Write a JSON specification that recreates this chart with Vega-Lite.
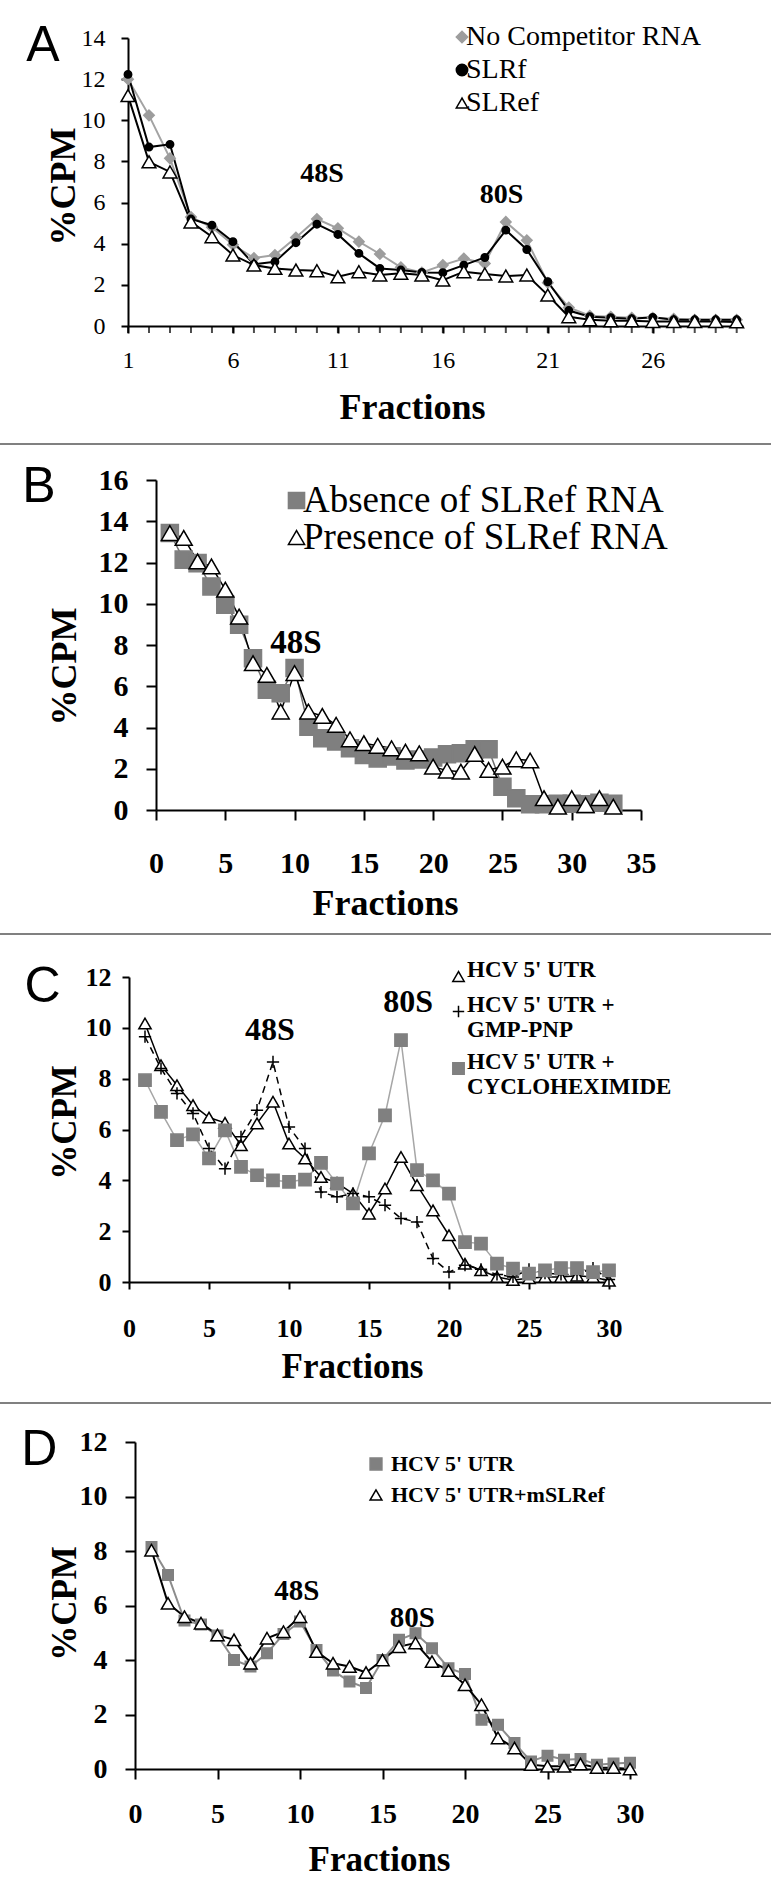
{
"$schema": "https://vega.github.io/schema/vega-lite/v6.json",
"width": 771, "height": 1895,
"autosize": {"type": "none"},
"padding": 0,
"background": "white",
"config": {
  "view": {"stroke": null},
  "axis": {"grid": false, "domainColor": "#000", "tickColor": "#000", "labelColor": "#000", "titleColor": "#000",
           "labelFont": "Liberation Serif", "titleFont": "Liberation Serif", "labelOverlap": false, "labelFlush": false, "labelBound": false,
           "domainWidth": 2, "tickWidth": 2}
},
"datasets": {
"A": [
{"fraction":1,"series":"No Competitor RNA","cpm":12.0},{"fraction":2,"series":"No Competitor RNA","cpm":10.24},{"fraction":3,"series":"No Competitor RNA","cpm":8.15},{"fraction":4,"series":"No Competitor RNA","cpm":5.3},{"fraction":5,"series":"No Competitor RNA","cpm":4.8},{"fraction":6,"series":"No Competitor RNA","cpm":3.95},{"fraction":7,"series":"No Competitor RNA","cpm":3.3},{"fraction":8,"series":"No Competitor RNA","cpm":3.45},{"fraction":9,"series":"No Competitor RNA","cpm":4.3},{"fraction":10,"series":"No Competitor RNA","cpm":5.2},{"fraction":11,"series":"No Competitor RNA","cpm":4.75},{"fraction":12,"series":"No Competitor RNA","cpm":4.1},{"fraction":13,"series":"No Competitor RNA","cpm":3.5},{"fraction":14,"series":"No Competitor RNA","cpm":2.85},{"fraction":15,"series":"No Competitor RNA","cpm":2.6},{"fraction":16,"series":"No Competitor RNA","cpm":2.96},{"fraction":17,"series":"No Competitor RNA","cpm":3.28},{"fraction":18,"series":"No Competitor RNA","cpm":3.04},{"fraction":19,"series":"No Competitor RNA","cpm":5.06},{"fraction":20,"series":"No Competitor RNA","cpm":4.17},{"fraction":21,"series":"No Competitor RNA","cpm":2.1},{"fraction":22,"series":"No Competitor RNA","cpm":0.9},{"fraction":23,"series":"No Competitor RNA","cpm":0.5},{"fraction":24,"series":"No Competitor RNA","cpm":0.45},{"fraction":25,"series":"No Competitor RNA","cpm":0.4},{"fraction":26,"series":"No Competitor RNA","cpm":0.4},{"fraction":27,"series":"No Competitor RNA","cpm":0.35},{"fraction":28,"series":"No Competitor RNA","cpm":0.3},{"fraction":29,"series":"No Competitor RNA","cpm":0.3},{"fraction":30,"series":"No Competitor RNA","cpm":0.3},
{"fraction":1,"series":"SLRf","cpm":12.23},{"fraction":2,"series":"SLRf","cpm":8.7},{"fraction":3,"series":"SLRf","cpm":8.83},{"fraction":4,"series":"SLRf","cpm":5.2},{"fraction":5,"series":"SLRf","cpm":4.9},{"fraction":6,"series":"SLRf","cpm":4.1},{"fraction":7,"series":"SLRf","cpm":3.0},{"fraction":8,"series":"SLRf","cpm":3.12},{"fraction":9,"series":"SLRf","cpm":4.05},{"fraction":10,"series":"SLRf","cpm":4.95},{"fraction":11,"series":"SLRf","cpm":4.45},{"fraction":12,"series":"SLRf","cpm":3.53},{"fraction":13,"series":"SLRf","cpm":2.8},{"fraction":14,"series":"SLRf","cpm":2.72},{"fraction":15,"series":"SLRf","cpm":2.6},{"fraction":16,"series":"SLRf","cpm":2.59},{"fraction":17,"series":"SLRf","cpm":2.96},{"fraction":18,"series":"SLRf","cpm":3.33},{"fraction":19,"series":"SLRf","cpm":4.66},{"fraction":20,"series":"SLRf","cpm":3.72},{"fraction":21,"series":"SLRf","cpm":2.15},{"fraction":22,"series":"SLRf","cpm":0.75},{"fraction":23,"series":"SLRf","cpm":0.45},{"fraction":24,"series":"SLRf","cpm":0.4},{"fraction":25,"series":"SLRf","cpm":0.35},{"fraction":26,"series":"SLRf","cpm":0.42},{"fraction":27,"series":"SLRf","cpm":0.3},{"fraction":28,"series":"SLRf","cpm":0.3},{"fraction":29,"series":"SLRf","cpm":0.3},{"fraction":30,"series":"SLRf","cpm":0.3},
{"fraction":1,"series":"SLRef","cpm":11.2},{"fraction":2,"series":"SLRef","cpm":7.98},{"fraction":3,"series":"SLRef","cpm":7.49},{"fraction":4,"series":"SLRef","cpm":5.06},{"fraction":5,"series":"SLRef","cpm":4.34},{"fraction":6,"series":"SLRef","cpm":3.45},{"fraction":7,"series":"SLRef","cpm":2.96},{"fraction":8,"series":"SLRef","cpm":2.8},{"fraction":9,"series":"SLRef","cpm":2.72},{"fraction":10,"series":"SLRef","cpm":2.69},{"fraction":11,"series":"SLRef","cpm":2.39},{"fraction":12,"series":"SLRef","cpm":2.64},{"fraction":13,"series":"SLRef","cpm":2.48},{"fraction":14,"series":"SLRef","cpm":2.56},{"fraction":15,"series":"SLRef","cpm":2.48},{"fraction":16,"series":"SLRef","cpm":2.23},{"fraction":17,"series":"SLRef","cpm":2.64},{"fraction":18,"series":"SLRef","cpm":2.53},{"fraction":19,"series":"SLRef","cpm":2.43},{"fraction":20,"series":"SLRef","cpm":2.48},{"fraction":21,"series":"SLRef","cpm":1.5},{"fraction":22,"series":"SLRef","cpm":0.45},{"fraction":23,"series":"SLRef","cpm":0.3},{"fraction":24,"series":"SLRef","cpm":0.25},{"fraction":25,"series":"SLRef","cpm":0.25},{"fraction":26,"series":"SLRef","cpm":0.22},{"fraction":27,"series":"SLRef","cpm":0.22},{"fraction":28,"series":"SLRef","cpm":0.22},{"fraction":29,"series":"SLRef","cpm":0.22},{"fraction":30,"series":"SLRef","cpm":0.2}
],
"B": [
{"fraction":1,"series":"Absence of SLRef RNA","cpm":13.43},{"fraction":2,"series":"Absence of SLRef RNA","cpm":12.14},{"fraction":3,"series":"Absence of SLRef RNA","cpm":11.97},{"fraction":4,"series":"Absence of SLRef RNA","cpm":10.84},{"fraction":5,"series":"Absence of SLRef RNA","cpm":9.95},{"fraction":6,"series":"Absence of SLRef RNA","cpm":8.98},{"fraction":7,"series":"Absence of SLRef RNA","cpm":7.36},{"fraction":8,"series":"Absence of SLRef RNA","cpm":5.83},{"fraction":9,"series":"Absence of SLRef RNA","cpm":5.66},{"fraction":10,"series":"Absence of SLRef RNA","cpm":6.88},{"fraction":11,"series":"Absence of SLRef RNA","cpm":4.04},{"fraction":12,"series":"Absence of SLRef RNA","cpm":3.48},{"fraction":13,"series":"Absence of SLRef RNA","cpm":3.32},{"fraction":14,"series":"Absence of SLRef RNA","cpm":2.99},{"fraction":15,"series":"Absence of SLRef RNA","cpm":2.67},{"fraction":16,"series":"Absence of SLRef RNA","cpm":2.5},{"fraction":17,"series":"Absence of SLRef RNA","cpm":2.6},{"fraction":18,"series":"Absence of SLRef RNA","cpm":2.4},{"fraction":19,"series":"Absence of SLRef RNA","cpm":2.45},{"fraction":20,"series":"Absence of SLRef RNA","cpm":2.55},{"fraction":21,"series":"Absence of SLRef RNA","cpm":2.7},{"fraction":22,"series":"Absence of SLRef RNA","cpm":2.75},{"fraction":23,"series":"Absence of SLRef RNA","cpm":2.95},{"fraction":24,"series":"Absence of SLRef RNA","cpm":2.95},{"fraction":25,"series":"Absence of SLRef RNA","cpm":1.13},{"fraction":26,"series":"Absence of SLRef RNA","cpm":0.57},{"fraction":27,"series":"Absence of SLRef RNA","cpm":0.28},{"fraction":28,"series":"Absence of SLRef RNA","cpm":0.28},{"fraction":29,"series":"Absence of SLRef RNA","cpm":0.3},{"fraction":30,"series":"Absence of SLRef RNA","cpm":0.3},{"fraction":31,"series":"Absence of SLRef RNA","cpm":0.28},{"fraction":32,"series":"Absence of SLRef RNA","cpm":0.35},{"fraction":33,"series":"Absence of SLRef RNA","cpm":0.3},
{"fraction":1,"series":"Presence of SLRef RNA","cpm":13.43},{"fraction":2,"series":"Presence of SLRef RNA","cpm":13.19},{"fraction":3,"series":"Presence of SLRef RNA","cpm":12.05},{"fraction":4,"series":"Presence of SLRef RNA","cpm":11.81},{"fraction":5,"series":"Presence of SLRef RNA","cpm":10.68},{"fraction":6,"series":"Presence of SLRef RNA","cpm":9.38},{"fraction":7,"series":"Presence of SLRef RNA","cpm":7.12},{"fraction":8,"series":"Presence of SLRef RNA","cpm":6.55},{"fraction":9,"series":"Presence of SLRef RNA","cpm":4.77},{"fraction":10,"series":"Presence of SLRef RNA","cpm":6.64},{"fraction":11,"series":"Presence of SLRef RNA","cpm":4.77},{"fraction":12,"series":"Presence of SLRef RNA","cpm":4.56},{"fraction":13,"series":"Presence of SLRef RNA","cpm":4.13},{"fraction":14,"series":"Presence of SLRef RNA","cpm":3.43},{"fraction":15,"series":"Presence of SLRef RNA","cpm":3.24},{"fraction":16,"series":"Presence of SLRef RNA","cpm":3.11},{"fraction":17,"series":"Presence of SLRef RNA","cpm":2.99},{"fraction":18,"series":"Presence of SLRef RNA","cpm":2.83},{"fraction":19,"series":"Presence of SLRef RNA","cpm":2.75},{"fraction":20,"series":"Presence of SLRef RNA","cpm":2.1},{"fraction":21,"series":"Presence of SLRef RNA","cpm":1.91},{"fraction":22,"series":"Presence of SLRef RNA","cpm":1.86},{"fraction":23,"series":"Presence of SLRef RNA","cpm":2.72},{"fraction":24,"series":"Presence of SLRef RNA","cpm":1.94},{"fraction":25,"series":"Presence of SLRef RNA","cpm":2.1},{"fraction":26,"series":"Presence of SLRef RNA","cpm":2.46},{"fraction":27,"series":"Presence of SLRef RNA","cpm":2.4},{"fraction":28,"series":"Presence of SLRef RNA","cpm":0.57},{"fraction":29,"series":"Presence of SLRef RNA","cpm":0.16},{"fraction":30,"series":"Presence of SLRef RNA","cpm":0.57},{"fraction":31,"series":"Presence of SLRef RNA","cpm":0.24},{"fraction":32,"series":"Presence of SLRef RNA","cpm":0.57},{"fraction":33,"series":"Presence of SLRef RNA","cpm":0.16}
],
"C": [
{"fraction":1,"series":"HCV 5' UTR","cpm":10.17},{"fraction":2,"series":"HCV 5' UTR","cpm":8.53},{"fraction":3,"series":"HCV 5' UTR","cpm":7.74},{"fraction":4,"series":"HCV 5' UTR","cpm":6.96},{"fraction":5,"series":"HCV 5' UTR","cpm":6.47},{"fraction":6,"series":"HCV 5' UTR","cpm":6.26},{"fraction":7,"series":"HCV 5' UTR","cpm":5.38},{"fraction":8,"series":"HCV 5' UTR","cpm":6.24},{"fraction":9,"series":"HCV 5' UTR","cpm":7.09},{"fraction":10,"series":"HCV 5' UTR","cpm":5.45},{"fraction":11,"series":"HCV 5' UTR","cpm":4.86},{"fraction":12,"series":"HCV 5' UTR","cpm":4.13},{"fraction":13,"series":"HCV 5' UTR","cpm":3.9},{"fraction":14,"series":"HCV 5' UTR","cpm":3.48},{"fraction":15,"series":"HCV 5' UTR","cpm":2.69},{"fraction":16,"series":"HCV 5' UTR","cpm":3.68},{"fraction":17,"series":"HCV 5' UTR","cpm":4.92},{"fraction":18,"series":"HCV 5' UTR","cpm":3.81},{"fraction":19,"series":"HCV 5' UTR","cpm":2.82},{"fraction":20,"series":"HCV 5' UTR","cpm":1.84},{"fraction":21,"series":"HCV 5' UTR","cpm":0.72},{"fraction":22,"series":"HCV 5' UTR","cpm":0.46},{"fraction":23,"series":"HCV 5' UTR","cpm":0.2},{"fraction":24,"series":"HCV 5' UTR","cpm":0.08},{"fraction":25,"series":"HCV 5' UTR","cpm":0.15},{"fraction":26,"series":"HCV 5' UTR","cpm":0.2},{"fraction":27,"series":"HCV 5' UTR","cpm":0.2},{"fraction":28,"series":"HCV 5' UTR","cpm":0.25},{"fraction":29,"series":"HCV 5' UTR","cpm":0.2},{"fraction":30,"series":"HCV 5' UTR","cpm":0.05},
{"fraction":1,"series":"HCV 5' UTR + GMP-PNP","cpm":9.65},{"fraction":2,"series":"HCV 5' UTR + GMP-PNP","cpm":8.4},{"fraction":3,"series":"HCV 5' UTR + GMP-PNP","cpm":7.42},{"fraction":4,"series":"HCV 5' UTR + GMP-PNP","cpm":6.63},{"fraction":5,"series":"HCV 5' UTR + GMP-PNP","cpm":5.25},{"fraction":6,"series":"HCV 5' UTR + GMP-PNP","cpm":4.46},{"fraction":7,"series":"HCV 5' UTR + GMP-PNP","cpm":5.71},{"fraction":8,"series":"HCV 5' UTR + GMP-PNP","cpm":6.76},{"fraction":9,"series":"HCV 5' UTR + GMP-PNP","cpm":8.66},{"fraction":10,"series":"HCV 5' UTR + GMP-PNP","cpm":6.1},{"fraction":11,"series":"HCV 5' UTR + GMP-PNP","cpm":5.25},{"fraction":12,"series":"HCV 5' UTR + GMP-PNP","cpm":3.54},{"fraction":13,"series":"HCV 5' UTR + GMP-PNP","cpm":3.35},{"fraction":14,"series":"HCV 5' UTR + GMP-PNP","cpm":3.48},{"fraction":15,"series":"HCV 5' UTR + GMP-PNP","cpm":3.35},{"fraction":16,"series":"HCV 5' UTR + GMP-PNP","cpm":3.02},{"fraction":17,"series":"HCV 5' UTR + GMP-PNP","cpm":2.5},{"fraction":18,"series":"HCV 5' UTR + GMP-PNP","cpm":2.36},{"fraction":19,"series":"HCV 5' UTR + GMP-PNP","cpm":0.92},{"fraction":20,"series":"HCV 5' UTR + GMP-PNP","cpm":0.39},{"fraction":21,"series":"HCV 5' UTR + GMP-PNP","cpm":0.66},{"fraction":22,"series":"HCV 5' UTR + GMP-PNP","cpm":0.5},{"fraction":23,"series":"HCV 5' UTR + GMP-PNP","cpm":0.3},{"fraction":24,"series":"HCV 5' UTR + GMP-PNP","cpm":0.2},{"fraction":25,"series":"HCV 5' UTR + GMP-PNP","cpm":0.5},{"fraction":26,"series":"HCV 5' UTR + GMP-PNP","cpm":0.35},{"fraction":27,"series":"HCV 5' UTR + GMP-PNP","cpm":0.3},{"fraction":28,"series":"HCV 5' UTR + GMP-PNP","cpm":0.3},{"fraction":29,"series":"HCV 5' UTR + GMP-PNP","cpm":0.55},{"fraction":30,"series":"HCV 5' UTR + GMP-PNP","cpm":0.1},
{"fraction":1,"series":"HCV 5' UTR + CYCLOHEXIMIDE","cpm":7.94},{"fraction":2,"series":"HCV 5' UTR + CYCLOHEXIMIDE","cpm":6.69},{"fraction":3,"series":"HCV 5' UTR + CYCLOHEXIMIDE","cpm":5.58},{"fraction":4,"series":"HCV 5' UTR + CYCLOHEXIMIDE","cpm":5.81},{"fraction":5,"series":"HCV 5' UTR + CYCLOHEXIMIDE","cpm":4.86},{"fraction":6,"series":"HCV 5' UTR + CYCLOHEXIMIDE","cpm":5.97},{"fraction":7,"series":"HCV 5' UTR + CYCLOHEXIMIDE","cpm":4.53},{"fraction":8,"series":"HCV 5' UTR + CYCLOHEXIMIDE","cpm":4.2},{"fraction":9,"series":"HCV 5' UTR + CYCLOHEXIMIDE","cpm":4.0},{"fraction":10,"series":"HCV 5' UTR + CYCLOHEXIMIDE","cpm":3.94},{"fraction":11,"series":"HCV 5' UTR + CYCLOHEXIMIDE","cpm":4.03},{"fraction":12,"series":"HCV 5' UTR + CYCLOHEXIMIDE","cpm":4.69},{"fraction":13,"series":"HCV 5' UTR + CYCLOHEXIMIDE","cpm":3.87},{"fraction":14,"series":"HCV 5' UTR + CYCLOHEXIMIDE","cpm":3.09},{"fraction":15,"series":"HCV 5' UTR + CYCLOHEXIMIDE","cpm":5.06},{"fraction":16,"series":"HCV 5' UTR + CYCLOHEXIMIDE","cpm":6.56},{"fraction":17,"series":"HCV 5' UTR + CYCLOHEXIMIDE","cpm":9.52},{"fraction":18,"series":"HCV 5' UTR + CYCLOHEXIMIDE","cpm":4.4},{"fraction":19,"series":"HCV 5' UTR + CYCLOHEXIMIDE","cpm":4.0},{"fraction":20,"series":"HCV 5' UTR + CYCLOHEXIMIDE","cpm":3.48},{"fraction":21,"series":"HCV 5' UTR + CYCLOHEXIMIDE","cpm":1.57},{"fraction":22,"series":"HCV 5' UTR + CYCLOHEXIMIDE","cpm":1.51},{"fraction":23,"series":"HCV 5' UTR + CYCLOHEXIMIDE","cpm":0.72},{"fraction":24,"series":"HCV 5' UTR + CYCLOHEXIMIDE","cpm":0.53},{"fraction":25,"series":"HCV 5' UTR + CYCLOHEXIMIDE","cpm":0.33},{"fraction":26,"series":"HCV 5' UTR + CYCLOHEXIMIDE","cpm":0.46},{"fraction":27,"series":"HCV 5' UTR + CYCLOHEXIMIDE","cpm":0.55},{"fraction":28,"series":"HCV 5' UTR + CYCLOHEXIMIDE","cpm":0.55},{"fraction":29,"series":"HCV 5' UTR + CYCLOHEXIMIDE","cpm":0.39},{"fraction":30,"series":"HCV 5' UTR + CYCLOHEXIMIDE","cpm":0.46}
],
"D": [
{"fraction":1,"series":"HCV 5' UTR","cpm":8.15},{"fraction":2,"series":"HCV 5' UTR","cpm":7.12},{"fraction":3,"series":"HCV 5' UTR","cpm":5.45},{"fraction":4,"series":"HCV 5' UTR","cpm":5.3},{"fraction":5,"series":"HCV 5' UTR","cpm":4.9},{"fraction":6,"series":"HCV 5' UTR","cpm":4.0},{"fraction":7,"series":"HCV 5' UTR","cpm":3.76},{"fraction":8,"series":"HCV 5' UTR","cpm":4.25},{"fraction":9,"series":"HCV 5' UTR","cpm":4.95},{"fraction":10,"series":"HCV 5' UTR","cpm":5.41},{"fraction":11,"series":"HCV 5' UTR","cpm":4.37},{"fraction":12,"series":"HCV 5' UTR","cpm":3.61},{"fraction":13,"series":"HCV 5' UTR","cpm":3.21},{"fraction":14,"series":"HCV 5' UTR","cpm":2.97},{"fraction":15,"series":"HCV 5' UTR","cpm":4.0},{"fraction":16,"series":"HCV 5' UTR","cpm":4.74},{"fraction":17,"series":"HCV 5' UTR","cpm":4.98},{"fraction":18,"series":"HCV 5' UTR","cpm":4.43},{"fraction":19,"series":"HCV 5' UTR","cpm":3.7},{"fraction":20,"series":"HCV 5' UTR","cpm":3.49},{"fraction":21,"series":"HCV 5' UTR","cpm":1.81},{"fraction":22,"series":"HCV 5' UTR","cpm":1.62},{"fraction":23,"series":"HCV 5' UTR","cpm":0.95},{"fraction":24,"series":"HCV 5' UTR","cpm":0.28},{"fraction":25,"series":"HCV 5' UTR","cpm":0.49},{"fraction":26,"series":"HCV 5' UTR","cpm":0.34},{"fraction":27,"series":"HCV 5' UTR","cpm":0.37},{"fraction":28,"series":"HCV 5' UTR","cpm":0.16},{"fraction":29,"series":"HCV 5' UTR","cpm":0.2},{"fraction":30,"series":"HCV 5' UTR","cpm":0.23},
{"fraction":1,"series":"HCV 5' UTR+mSLRef","cpm":8.03},{"fraction":2,"series":"HCV 5' UTR+mSLRef","cpm":6.08},{"fraction":3,"series":"HCV 5' UTR+mSLRef","cpm":5.59},{"fraction":4,"series":"HCV 5' UTR+mSLRef","cpm":5.35},{"fraction":5,"series":"HCV 5' UTR+mSLRef","cpm":4.92},{"fraction":6,"series":"HCV 5' UTR+mSLRef","cpm":4.74},{"fraction":7,"series":"HCV 5' UTR+mSLRef","cpm":3.88},{"fraction":8,"series":"HCV 5' UTR+mSLRef","cpm":4.8},{"fraction":9,"series":"HCV 5' UTR+mSLRef","cpm":5.04},{"fraction":10,"series":"HCV 5' UTR+mSLRef","cpm":5.59},{"fraction":11,"series":"HCV 5' UTR+mSLRef","cpm":4.31},{"fraction":12,"series":"HCV 5' UTR+mSLRef","cpm":3.88},{"fraction":13,"series":"HCV 5' UTR+mSLRef","cpm":3.76},{"fraction":14,"series":"HCV 5' UTR+mSLRef","cpm":3.54},{"fraction":15,"series":"HCV 5' UTR+mSLRef","cpm":4.0},{"fraction":16,"series":"HCV 5' UTR+mSLRef","cpm":4.49},{"fraction":17,"series":"HCV 5' UTR+mSLRef","cpm":4.62},{"fraction":18,"series":"HCV 5' UTR+mSLRef","cpm":3.94},{"fraction":19,"series":"HCV 5' UTR+mSLRef","cpm":3.61},{"fraction":20,"series":"HCV 5' UTR+mSLRef","cpm":3.09},{"fraction":21,"series":"HCV 5' UTR+mSLRef","cpm":2.36},{"fraction":22,"series":"HCV 5' UTR+mSLRef","cpm":1.14},{"fraction":23,"series":"HCV 5' UTR+mSLRef","cpm":0.77},{"fraction":24,"series":"HCV 5' UTR+mSLRef","cpm":0.16},{"fraction":25,"series":"HCV 5' UTR+mSLRef","cpm":0.1},{"fraction":26,"series":"HCV 5' UTR+mSLRef","cpm":0.1},{"fraction":27,"series":"HCV 5' UTR+mSLRef","cpm":0.18},{"fraction":28,"series":"HCV 5' UTR+mSLRef","cpm":0.05},{"fraction":29,"series":"HCV 5' UTR+mSLRef","cpm":0.05},{"fraction":30,"series":"HCV 5' UTR+mSLRef","cpm":0.0}
]
},
"layer": [
{
  "data": {"name": "A"},
  "layer": [
    {"transform": [{"filter": {"field": "series", "equal": "No Competitor RNA"}}],
     "mark": {"type": "line", "strokeWidth": 2, "color": "#a3a3a3"},
     "encoding": {
       "x": {"field": "fraction", "type": "quantitative",
             "scale": {"domain": [1, 30.3], "range": [128, 743], "nice": false, "zero": false},
             "axis": {"orient": "bottom", "offset": -1569, "values": [1, 6, 11, 16, 21, 26], "format": "d", "labelOverlap": false,
                      "tickSize": 7, "labelPadding": 15, "labelFontSize": 24, "labelFontWeight": "normal",
                      "title": "Fractions", "titleFontSize": 36, "titleFontWeight": "bold",
                      "titleX": 412, "titleY": 81, "titleBaseline": "middle", "titleAlign": "center", "titleAngle": 0}},
       "y": {"field": "cpm", "type": "quantitative",
             "scale": {"domain": [0, 14], "range": [326, 38], "nice": false, "zero": false},
             "axis": {"orient": "left", "offset": -128, "values": [0,2,4,6,8,10,12,14], "format": "d", "labelOverlap": false,
                      "tickSize": 7, "labelPadding": 16, "labelFontSize": 24, "labelFontWeight": "normal",
                      "title": "%CPM", "titleFontSize": 36, "titleFontWeight": "bold",
                      "titleX": -65, "titleY": 186, "titleAngle": 270, "titleBaseline": "middle", "titleAlign": "center"}}
     }},
    {"transform": [{"filter": {"field": "series", "equal": "SLRf"}}],
     "mark": {"type": "tick", "orient": "vertical", "size": 7, "thickness": 2, "color": "#000000", "yOffset": 3.5},
     "encoding": {"x": {"field": "fraction", "type": "quantitative"}, "y": {"datum": 0, "type": "quantitative"}}},
    {"transform": [{"filter": {"field": "series", "equal": "SLRf"}}],
     "mark": {"type": "line", "strokeWidth": 2, "color": "#000000"},
     "encoding": {"x": {"field": "fraction", "type": "quantitative"}, "y": {"field": "cpm", "type": "quantitative"}}},
    {"transform": [{"filter": {"field": "series", "equal": "SLRef"}}],
     "mark": {"type": "line", "strokeWidth": 2, "color": "#000000"},
     "encoding": {"x": {"field": "fraction", "type": "quantitative"}, "y": {"field": "cpm", "type": "quantitative"}}},
    {"mark": {"type": "point", "filled": true, "opacity": 1, "strokeWidth": 1.5},
     "encoding": {
       "x": {"field": "fraction", "type": "quantitative"},
       "y": {"field": "cpm", "type": "quantitative"},
       "size": {"condition": [{"test": "datum.series == 'SLRf'", "value": 55}, {"test": "datum.series == 'No Competitor RNA'", "value": 110}], "value": 190},
       "shape": {"field": "series", "type": "nominal",
                 "scale": {"domain": ["No Competitor RNA", "SLRf", "SLRef"], "range": ["diamond", "circle", "triangle-up"]},
                 "legend": {"orient": "none", "legendX": 448, "legendY": 23, "title": null, "labelFont": "Liberation Serif", "labelFontSize": 28, "labelColor": "#000", "labelOffset": -10, "rowPadding": 5, "symbolSize": 130, "symbolStrokeWidth": 1.5, "labelLimit": 600, "padding": 0}},
       "fill": {"field": "series", "type": "nominal",
                "scale": {"domain": ["No Competitor RNA", "SLRf", "SLRef"], "range": ["#9d9d9d", "#000000", "#ffffff"]},
                "legend": {"orient": "none", "legendX": 448, "legendY": 23, "title": null, "labelFont": "Liberation Serif", "labelFontSize": 28, "labelColor": "#000", "labelOffset": -10, "rowPadding": 5, "symbolSize": 130, "symbolStrokeWidth": 1.5, "labelLimit": 600, "padding": 0}},
       "stroke": {"field": "series", "type": "nominal",
                  "scale": {"domain": ["No Competitor RNA", "SLRf", "SLRef"], "range": ["#9d9d9d", "#000000", "#000000"]},
                  "legend": {"orient": "none", "legendX": 448, "legendY": 23, "title": null, "labelFont": "Liberation Serif", "labelFontSize": 28, "labelColor": "#000", "labelOffset": -10, "rowPadding": 5, "symbolSize": 130, "symbolStrokeWidth": 1.5, "labelLimit": 600, "padding": 0}}
     }},
    {"data": {"values": [{"label": "48S", "fraction": 10.24, "cpm": 7.39}, {"label": "80S", "fraction": 18.8, "cpm": 6.37}]},
     "mark": {"type": "text", "font": "Liberation Serif", "fontWeight": "bold", "fontSize": 28, "align": "center", "baseline": "middle", "color": "#000"},
     "encoding": {"x": {"field": "fraction", "type": "quantitative"}, "y": {"field": "cpm", "type": "quantitative"}, "text": {"field": "label"}}},
    {"data": {"values": [{"label": "A"}]},
     "mark": {"type": "text", "font": "Liberation Sans", "fontSize": 50, "align": "center", "baseline": "middle", "color": "#000"},
     "encoding": {"x": {"datum": -3.05, "type": "quantitative"}, "y": {"datum": 13.6, "type": "quantitative"}, "text": {"field": "label"}}}
  ]
},
{
  "data": {"name": "B"},
  "layer": [
    {"transform": [{"filter": {"field": "series", "equal": "Absence of SLRef RNA"}}],
     "mark": {"type": "line", "strokeWidth": 1.5, "color": "#6f6f6f"},
     "encoding": {
       "x": {"field": "fraction", "type": "quantitative",
             "scale": {"domain": [0, 35], "range": [156, 641], "nice": false, "zero": false},
             "axis": {"orient": "bottom", "offset": -1085, "values": [0,5,10,15,20,25,30,35], "format": "d", "labelOverlap": false,
                      "tickSize": 10, "labelPadding": 28, "labelFontSize": 30, "labelFontWeight": "bold",
                      "title": "Fractions", "titleFontSize": 36, "titleFontWeight": "bold",
                      "titleX": 385, "titleY": 93, "titleBaseline": "middle", "titleAlign": "center", "titleAngle": 0}},
       "y": {"field": "cpm", "type": "quantitative",
             "scale": {"domain": [0, 16], "range": [810, 480], "nice": false, "zero": false},
             "axis": {"orient": "left", "offset": -156, "values": [0,2,4,6,8,10,12,14,16], "format": "d", "labelOverlap": false,
                      "tickSize": 10, "labelPadding": 18, "labelFontSize": 30, "labelFontWeight": "bold",
                      "title": "%CPM", "titleFontSize": 36, "titleFontWeight": "bold",
                      "titleX": -92, "titleY": 666, "titleAngle": 270, "titleBaseline": "middle", "titleAlign": "center"}}
     }},
    {"transform": [{"filter": {"field": "series", "equal": "Presence of SLRef RNA"}}],
     "mark": {"type": "line", "strokeWidth": 1.5, "color": "#000000"},
     "encoding": {"x": {"field": "fraction", "type": "quantitative"}, "y": {"field": "cpm", "type": "quantitative"}}},
    {"mark": {"type": "point", "filled": true, "opacity": 1, "strokeWidth": 1.5},
     "encoding": {
       "x": {"field": "fraction", "type": "quantitative"},
       "y": {"field": "cpm", "type": "quantitative"},
       "size": {"value": 290},
       "shape": {"field": "series", "type": "nominal",
                 "scale": {"domain": ["Absence of SLRef RNA", "Presence of SLRef RNA"], "range": ["square", "triangle-up"]},
                 "legend": {"orient": "none", "legendX": 278, "legendY": 482, "title": null, "labelFont": "Liberation Serif", "labelFontSize": 37, "labelColor": "#000", "labelOffset": -12, "rowPadding": -4, "symbolSize": 260, "symbolStrokeWidth": 1.5, "labelLimit": 600, "padding": 0}},
       "fill": {"field": "series", "type": "nominal",
                "scale": {"domain": ["Absence of SLRef RNA", "Presence of SLRef RNA"], "range": ["#7f7f7f", "#ffffff"]},
                "legend": {"orient": "none", "legendX": 278, "legendY": 482, "title": null, "labelFont": "Liberation Serif", "labelFontSize": 37, "labelColor": "#000", "labelOffset": -12, "rowPadding": -4, "symbolSize": 260, "symbolStrokeWidth": 1.5, "labelLimit": 600, "padding": 0}},
       "stroke": {"field": "series", "type": "nominal",
                  "scale": {"domain": ["Absence of SLRef RNA", "Presence of SLRef RNA"], "range": ["#7f7f7f", "#000000"]},
                  "legend": {"orient": "none", "legendX": 278, "legendY": 482, "title": null, "labelFont": "Liberation Serif", "labelFontSize": 37, "labelColor": "#000", "labelOffset": -12, "rowPadding": -4, "symbolSize": 260, "symbolStrokeWidth": 1.5, "labelLimit": 600, "padding": 0}}
     }},
    {"data": {"values": [{"label": "48S", "fraction": 10.1, "cpm": 8.1}]},
     "mark": {"type": "text", "font": "Liberation Serif", "fontWeight": "bold", "fontSize": 33, "align": "center", "baseline": "middle", "color": "#000"},
     "encoding": {"x": {"field": "fraction", "type": "quantitative"}, "y": {"field": "cpm", "type": "quantitative"}, "text": {"field": "label"}}},
    {"data": {"values": [{"label": "B"}]},
     "mark": {"type": "text", "font": "Liberation Sans", "fontSize": 50, "align": "center", "baseline": "middle", "color": "#000"},
     "encoding": {"x": {"datum": -8.44, "type": "quantitative"}, "y": {"datum": 15.66, "type": "quantitative"}, "text": {"field": "label"}}},
    {"data": {"values": [{"label": "separator"}]},
     "mark": {"type": "rule", "color": "#808080", "strokeWidth": 2},
     "encoding": {"y": {"datum": 17.75, "type": "quantitative"}}}
  ]
},
{
  "data": {"name": "C"},
  "layer": [
    {"transform": [{"filter": {"field": "series", "equal": "HCV 5' UTR + CYCLOHEXIMIDE"}}],
     "mark": {"type": "line", "strokeWidth": 1.5, "color": "#a6a6a6"},
     "encoding": {
       "x": {"field": "fraction", "type": "quantitative",
             "scale": {"domain": [0, 30], "range": [129, 609], "nice": false, "zero": false},
             "axis": {"orient": "bottom", "offset": -613, "values": [0,5,10,15,20,25,30], "format": "d", "labelOverlap": false,
                      "tickSize": 7, "labelPadding": 26, "labelFontSize": 26, "labelFontWeight": "bold",
                      "title": "Fractions", "titleFontSize": 35, "titleFontWeight": "bold",
                      "titleX": 352, "titleY": 84, "titleBaseline": "middle", "titleAlign": "center", "titleAngle": 0}},
       "y": {"field": "cpm", "type": "quantitative",
             "scale": {"domain": [0, 12], "range": [1282, 977], "nice": false, "zero": false},
             "axis": {"orient": "left", "offset": -129, "values": [0,2,4,6,8,10,12], "format": "d", "labelOverlap": false,
                      "tickSize": 7, "labelPadding": 11, "labelFontSize": 26, "labelFontWeight": "bold",
                      "title": "%CPM", "titleFontSize": 35, "titleFontWeight": "bold",
                      "titleX": -65, "titleY": 1122, "titleAngle": 270, "titleBaseline": "middle", "titleAlign": "center"}}
     }},
    {"transform": [{"filter": {"field": "series", "equal": "HCV 5' UTR + GMP-PNP"}}],
     "mark": {"type": "line", "strokeWidth": 1.5, "color": "#000000", "strokeDash": [7, 5]},
     "encoding": {"x": {"field": "fraction", "type": "quantitative"}, "y": {"field": "cpm", "type": "quantitative"}}},
    {"transform": [{"filter": {"field": "series", "equal": "HCV 5' UTR"}}],
     "mark": {"type": "line", "strokeWidth": 1.5, "color": "#000000"},
     "encoding": {"x": {"field": "fraction", "type": "quantitative"}, "y": {"field": "cpm", "type": "quantitative"}}},
    {"mark": {"type": "point", "filled": true, "opacity": 1, "strokeWidth": 1.5},
     "encoding": {
       "x": {"field": "fraction", "type": "quantitative"},
       "y": {"field": "cpm", "type": "quantitative"},
       "size": {"value": 150},
       "shape": {"field": "series", "type": "nominal",
                 "scale": {"domain": ["HCV 5' UTR", "HCV 5' UTR + GMP-PNP", "HCV 5' UTR + CYCLOHEXIMIDE"], "range": ["triangle-up", "M-1,0H1M0,-1V1", "square"]},
                 "legend": {"orient": "none", "legendX": 447, "legendY": 965, "title": null, "labelFont": "Liberation Serif", "labelFontSize": 23, "labelFontWeight": "bold", "labelColor": "#000", "labelOffset": -3, "rowPadding": 8, "symbolSize": 130, "symbolStrokeWidth": 1.5, "labelLimit": 600, "padding": 0, "labelBaseline": "alphabetic",
                            "labelExpr": "datum.label == \"HCV 5' UTR + GMP-PNP\" ? [\"HCV 5' UTR +\", \"GMP-PNP\"] : datum.label == \"HCV 5' UTR + CYCLOHEXIMIDE\" ? [\"HCV 5' UTR +\", \"CYCLOHEXIMIDE\"] : datum.label"}},
       "fill": {"field": "series", "type": "nominal",
                "scale": {"domain": ["HCV 5' UTR", "HCV 5' UTR + GMP-PNP", "HCV 5' UTR + CYCLOHEXIMIDE"], "range": ["#ffffff", "transparent", "#808080"]},
                "legend": {"orient": "none", "legendX": 447, "legendY": 965, "title": null, "labelFont": "Liberation Serif", "labelFontSize": 23, "labelFontWeight": "bold", "labelColor": "#000", "labelOffset": -3, "rowPadding": 8, "symbolSize": 130, "symbolStrokeWidth": 1.5, "labelLimit": 600, "padding": 0, "labelBaseline": "alphabetic",
                            "labelExpr": "datum.label == \"HCV 5' UTR + GMP-PNP\" ? [\"HCV 5' UTR +\", \"GMP-PNP\"] : datum.label == \"HCV 5' UTR + CYCLOHEXIMIDE\" ? [\"HCV 5' UTR +\", \"CYCLOHEXIMIDE\"] : datum.label"}},
       "stroke": {"field": "series", "type": "nominal",
                  "scale": {"domain": ["HCV 5' UTR", "HCV 5' UTR + GMP-PNP", "HCV 5' UTR + CYCLOHEXIMIDE"], "range": ["#000000", "#000000", "#808080"]},
                  "legend": {"orient": "none", "legendX": 447, "legendY": 965, "title": null, "labelFont": "Liberation Serif", "labelFontSize": 23, "labelFontWeight": "bold", "labelColor": "#000", "labelOffset": -3, "rowPadding": 8, "symbolSize": 130, "symbolStrokeWidth": 1.5, "labelLimit": 600, "padding": 0, "labelBaseline": "alphabetic",
                            "labelExpr": "datum.label == \"HCV 5' UTR + GMP-PNP\" ? [\"HCV 5' UTR +\", \"GMP-PNP\"] : datum.label == \"HCV 5' UTR + CYCLOHEXIMIDE\" ? [\"HCV 5' UTR +\", \"CYCLOHEXIMIDE\"] : datum.label"}}
     }},
    {"data": {"values": [{"label": "48S", "fraction": 8.8, "cpm": 9.9}, {"label": "80S", "fraction": 17.45, "cpm": 11.0}]},
     "mark": {"type": "text", "font": "Liberation Serif", "fontWeight": "bold", "fontSize": 32, "align": "center", "baseline": "middle", "color": "#000"},
     "encoding": {"x": {"field": "fraction", "type": "quantitative"}, "y": {"field": "cpm", "type": "quantitative"}, "text": {"field": "label"}}},
    {"data": {"values": [{"label": "C"}]},
     "mark": {"type": "text", "font": "Liberation Sans", "fontSize": 50, "align": "center", "baseline": "middle", "color": "#000"},
     "encoding": {"x": {"datum": -5.4, "type": "quantitative"}, "y": {"datum": 11.6, "type": "quantitative"}, "text": {"field": "label"}}},
    {"data": {"values": [{"label": "separator"}]},
     "mark": {"type": "rule", "color": "#808080", "strokeWidth": 2},
     "encoding": {"y": {"datum": 13.69, "type": "quantitative"}}}
  ]
},
{
  "data": {"name": "D"},
  "layer": [
    {"transform": [{"filter": {"field": "series", "equal": "HCV 5' UTR"}}],
     "mark": {"type": "line", "strokeWidth": 2, "color": "#8c8c8c"},
     "encoding": {
       "x": {"field": "fraction", "type": "quantitative",
             "scale": {"domain": [0, 30], "range": [135, 630], "nice": false, "zero": false},
             "axis": {"orient": "bottom", "offset": -126, "values": [0,5,10,15,20,25,30], "format": "d", "labelOverlap": false,
                      "tickSize": 10, "labelPadding": 21, "labelFontSize": 28, "labelFontWeight": "bold",
                      "title": "Fractions", "titleFontSize": 35, "titleFontWeight": "bold",
                      "titleX": 379, "titleY": 90, "titleBaseline": "middle", "titleAlign": "center", "titleAngle": 0}},
       "y": {"field": "cpm", "type": "quantitative",
             "scale": {"domain": [0, 12], "range": [1769, 1442], "nice": false, "zero": false},
             "axis": {"orient": "left", "offset": -135, "values": [0,2,4,6,8,10,12], "format": "d", "labelOverlap": false,
                      "tickSize": 10, "labelPadding": 18, "labelFontSize": 28, "labelFontWeight": "bold",
                      "title": "%CPM", "titleFontSize": 35, "titleFontWeight": "bold",
                      "titleX": -71, "titleY": 1603, "titleAngle": 270, "titleBaseline": "middle", "titleAlign": "center"}}
     }},
    {"transform": [{"filter": {"field": "series", "equal": "HCV 5' UTR+mSLRef"}}],
     "mark": {"type": "line", "strokeWidth": 2, "color": "#000000"},
     "encoding": {"x": {"field": "fraction", "type": "quantitative"}, "y": {"field": "cpm", "type": "quantitative"}}},
    {"mark": {"type": "point", "filled": true, "opacity": 1, "strokeWidth": 1.5},
     "encoding": {
       "x": {"field": "fraction", "type": "quantitative"},
       "y": {"field": "cpm", "type": "quantitative"},
       "size": {"condition": {"test": "datum.series == \"HCV 5' UTR+mSLRef\"", "value": 175}, "value": 110},
       "shape": {"field": "series", "type": "nominal",
                 "scale": {"domain": ["HCV 5' UTR", "HCV 5' UTR+mSLRef"], "range": ["square", "triangle-up"]},
                 "legend": {"orient": "none", "legendX": 365, "legendY": 1453, "title": null, "labelFont": "Liberation Serif", "labelFontSize": 22, "labelFontWeight": "bold", "labelColor": "#000", "labelOffset": 4, "rowPadding": 9, "symbolSize": 140, "symbolStrokeWidth": 1.5, "labelLimit": 600, "padding": 0}},
       "fill": {"field": "series", "type": "nominal",
                "scale": {"domain": ["HCV 5' UTR", "HCV 5' UTR+mSLRef"], "range": ["#808080", "#ffffff"]},
                "legend": {"orient": "none", "legendX": 365, "legendY": 1453, "title": null, "labelFont": "Liberation Serif", "labelFontSize": 22, "labelFontWeight": "bold", "labelColor": "#000", "labelOffset": 4, "rowPadding": 9, "symbolSize": 140, "symbolStrokeWidth": 1.5, "labelLimit": 600, "padding": 0}},
       "stroke": {"field": "series", "type": "nominal",
                  "scale": {"domain": ["HCV 5' UTR", "HCV 5' UTR+mSLRef"], "range": ["#808080", "#000000"]},
                  "legend": {"orient": "none", "legendX": 365, "legendY": 1453, "title": null, "labelFont": "Liberation Serif", "labelFontSize": 22, "labelFontWeight": "bold", "labelColor": "#000", "labelOffset": 4, "rowPadding": 9, "symbolSize": 140, "symbolStrokeWidth": 1.5, "labelLimit": 600, "padding": 0}}
     }},
    {"data": {"values": [{"label": "48S", "fraction": 9.8, "cpm": 6.55}, {"label": "80S", "fraction": 16.8, "cpm": 5.53}]},
     "mark": {"type": "text", "font": "Liberation Serif", "fontWeight": "bold", "fontSize": 29, "align": "center", "baseline": "middle", "color": "#000"},
     "encoding": {"x": {"field": "fraction", "type": "quantitative"}, "y": {"field": "cpm", "type": "quantitative"}, "text": {"field": "label"}}},
    {"data": {"values": [{"label": "D"}]},
     "mark": {"type": "text", "font": "Liberation Sans", "fontSize": 50, "align": "center", "baseline": "middle", "color": "#000"},
     "encoding": {"x": {"datum": -5.8, "type": "quantitative"}, "y": {"datum": 11.7, "type": "quantitative"}, "text": {"field": "label"}}},
    {"data": {"values": [{"label": "separator"}]},
     "mark": {"type": "rule", "color": "#808080", "strokeWidth": 2},
     "encoding": {"y": {"datum": 13.43, "type": "quantitative"}}}
  ]
}
],
"resolve": {"scale": {"x": "independent", "y": "independent", "shape": "independent", "fill": "independent", "stroke": "independent"}}
}
